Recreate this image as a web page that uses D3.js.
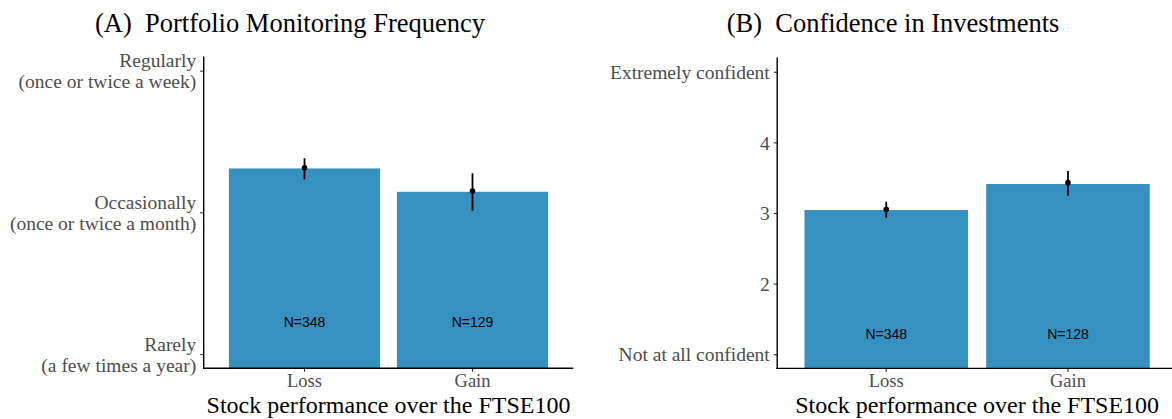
<!DOCTYPE html>
<html>
<head>
<meta charset="utf-8">
<script src="https://cdn.jsdelivr.net/npm/d3@7"></script>
<style>
  html, body { margin: 0; padding: 0; background: #fff; }
  svg { display: block; }
</style>
</head>
<body>
<svg id="chart" width="1172" height="419"></svg>
<script>
// Groups on the x axis
const categories = ["Loss", "Gain"];

// Panel A: portfolio monitoring frequency (1 = Rarely, 2 = Occasionally, 3 = Regularly)
const monitorMean = [2.31, 2.145];
const monitorPoint = [2.315, 2.15];
const monitorLow = [2.233, 2.012];
const monitorHigh = [2.382, 2.276];
const monitorN = [348, 129];
const monitorTicks = [1, 2, 3];
const monitorTickLabels = [
  ["Rarely", "(a few times a year)"],
  ["Occasionally", "(once or twice a month)"],
  ["Regularly", "(once or twice a week)"]
];

// Panel B: confidence in investments (1 = Not at all confident, 5 = Extremely confident)
const confMean = [3.042, 3.41];
const confPoint = [3.052, 3.43];
const confLow = [2.933, 3.245];
const confHigh = [3.16, 3.594];
const confN = [348, 128];
const confTicks = [1, 2, 3, 4, 5];
const confTickLabels = [["Not at all confident"], ["2"], ["3"], ["4"], ["Extremely confident"]];

const svg = d3.select("#chart");
const SERIF = "'Liberation Serif', 'Times New Roman', serif";
const SANS = "'Liberation Sans', Arial, sans-serif";
const BAR = "#3690c0";
const GREY = "#4d4d4d";

function panel(cfg) {
  const g = svg.append("g");
  const x = d3.scaleBand()
    .domain(categories)
    .range([cfg.left, cfg.right])
    .paddingInner(0.1)
    .paddingOuter(0.15);
  const y = d3.scaleLinear().domain(cfg.yDomain).range([cfg.bottom, cfg.top]);
  const rows = categories.map((c, i) => ({
    cat: c, mean: cfg.mean[i], point: cfg.point[i], lo: cfg.lo[i], hi: cfg.hi[i], n: cfg.n[i]
  }));

  // bars
  g.selectAll("rect.bar").data(rows).enter().append("rect")
    .attr("class", "bar")
    .attr("x", d => x(d.cat))
    .attr("width", x.bandwidth())
    .attr("y", d => y(d.mean))
    .attr("height", d => cfg.bottom - y(d.mean))
    .attr("fill", BAR);

  // sample size labels
  g.selectAll("text.n").data(rows).enter().append("text")
    .attr("class", "n")
    .attr("x", d => x(d.cat) + x.bandwidth() / 2)
    .attr("y", y(cfg.nLabelAt))
    .attr("dy", "0.36em")
    .attr("text-anchor", "middle")
    .attr("font-family", SANS)
    .attr("font-size", 14)
    .attr("fill", "#000")
    .text(d => "N=" + d.n);

  // confidence intervals
  g.selectAll("line.ci").data(rows).enter().append("line")
    .attr("class", "ci")
    .attr("x1", d => x(d.cat) + x.bandwidth() / 2)
    .attr("x2", d => x(d.cat) + x.bandwidth() / 2)
    .attr("y1", d => y(d.lo))
    .attr("y2", d => y(d.hi))
    .attr("stroke", "#000")
    .attr("stroke-width", 1.8);
  g.selectAll("circle.pt").data(rows).enter().append("circle")
    .attr("class", "pt")
    .attr("cx", d => x(d.cat) + x.bandwidth() / 2)
    .attr("cy", d => y(d.point))
    .attr("r", 2.8)
    .attr("fill", "#000");

  // y axis
  const yAxis = d3.axisLeft(y)
    .tickValues(cfg.ticks)
    .tickSize(3.5)
    .tickPadding(4)
    .tickFormat("");
  const ya = g.append("g").attr("transform", `translate(${cfg.left},0)`).call(yAxis);
  ya.select(".domain").remove();
  ya.selectAll(".tick line").attr("stroke", "#333").attr("stroke-width", 1.1);
  ya.selectAll(".tick").each(function (d, i) {
    const lines = cfg.tickLabels[i];
    const t = d3.select(this).append("text")
      .attr("x", -7.5)
      .attr("text-anchor", "end")
      .attr("font-family", SERIF)
      .attr("font-size", 19.5)
      .attr("fill", GREY);
    const lh = 21;
    const start = -((lines.length - 1) * lh) / 2;
    lines.forEach((s, k) => {
      t.append("tspan")
        .attr("x", -7.5)
        .attr("y", start + k * lh)
        .attr("dy", "0.34em")
        .text(s);
    });
  });

  // x axis
  const xAxis = d3.axisBottom(x).tickSize(3.5).tickPadding(2);
  const xa = g.append("g").attr("transform", `translate(0,${cfg.bottom})`).call(xAxis);
  xa.select(".domain").remove();
  xa.selectAll(".tick line").attr("stroke", "#333").attr("stroke-width", 1.1);
  xa.selectAll(".tick text")
    .attr("font-family", SERIF)
    .attr("font-size", 18.5)
    .attr("fill", GREY);

  // axis lines
  g.append("line")
    .attr("x1", cfg.left).attr("x2", cfg.left)
    .attr("y1", cfg.top).attr("y2", cfg.bottom + 0.7)
    .attr("stroke", "#000").attr("stroke-width", 1.4);
  g.append("line")
    .attr("x1", cfg.left - 0.7).attr("x2", cfg.right)
    .attr("y1", cfg.bottom).attr("y2", cfg.bottom)
    .attr("stroke", "#000").attr("stroke-width", 1.4);

  // titles
  g.append("text")
    .attr("x", cfg.titleX)
    .attr("y", 32)
    .attr("text-anchor", "middle")
    .attr("font-family", SERIF)
    .attr("font-size", 26.5)
    .attr("fill", "#000")
    .text(cfg.title);
  g.append("text")
    .attr("x", (cfg.left + cfg.right) / 2)
    .attr("y", 412.5)
    .attr("text-anchor", "middle")
    .attr("font-family", SERIF)
    .attr("font-size", 24)
    .attr("fill", "#000")
    .text("Stock performance over the FTSE100");
}

panel({
  left: 203.7, right: 573.3, top: 56.5, bottom: 368.2,
  yDomain: [0.9, 3.1],
  mean: monitorMean, point: monitorPoint, lo: monitorLow, hi: monitorHigh, n: monitorN,
  ticks: monitorTicks, tickLabels: monitorTickLabels,
  nLabelAt: 1.228,
  title: "(A)\u00a0 Portfolio Monitoring Frequency", titleX: 290
});

panel({
  left: 777.2, right: 1177, top: 57.6, bottom: 368.4,
  yDomain: [0.8, 5.2],
  mean: confMean, point: confPoint, lo: confLow, hi: confHigh, n: confN,
  ticks: confTicks, tickLabels: confTickLabels,
  nLabelAt: 1.287,
  title: "(B)\u00a0 Confidence in Investments", titleX: 893
});
</script>
</body>
</html>
